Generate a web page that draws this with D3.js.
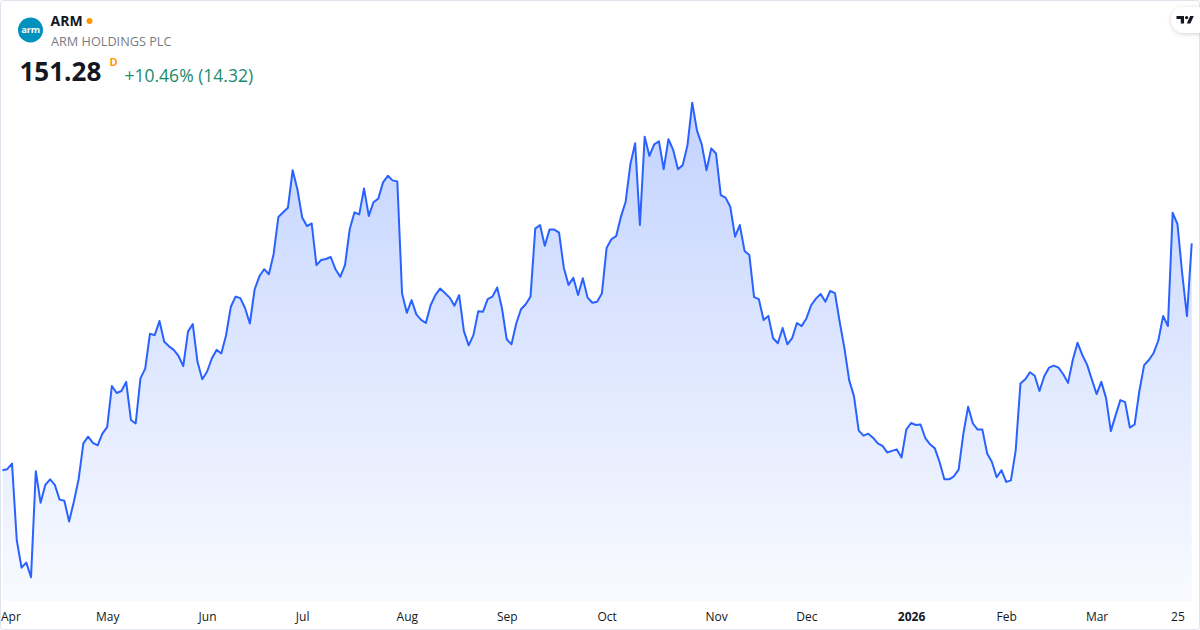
<!DOCTYPE html>
<html>
<head>
<meta charset="utf-8">
<script src="https://cdn.jsdelivr.net/npm/d3@7"></script>
<style>
  html, body { margin: 0; padding: 0; background: #fff; }
  body { width: 1200px; height: 630px; overflow: hidden; font-family: "Open Sans", "Noto Sans", sans-serif; }
</style>
</head>
<body>
<div id="chart"></div>
<script>
// header texts
var symbol = 'ARM';
var companyName = 'ARM HOLDINGS PLC';
var lastPrice = '151.28';
var intervalMark = 'D';
var changeText = '+10.46% (14.32)';

// daily closes, 31 Mar 2025 -> 30 Mar 2026
var closes = [
  106.6, 106.8, 107.9, 92.8, 87.4, 88.4, 85.5, 106.4, 100.2, 103.7,
  104.8, 103.7, 100.8, 100.6, 96.5, 100.4, 104.8, 111.9, 113.2, 112.0,
  111.5, 113.8, 115.1, 123.2, 121.8, 122.2, 124.0, 116.5, 115.8, 124.7,
  126.6, 133.5, 133.2, 136.0, 131.9, 131.0, 130.3, 129.1, 127.1, 133.9,
  135.4, 127.9, 124.5, 126.0, 128.6, 130.3, 129.6, 133.2, 138.8, 140.8,
  140.5, 138.5, 135.5, 142.2, 144.8, 146.2, 145.2, 149.2, 156.5, 157.4,
  158.3, 165.7, 161.9, 156.4, 154.7, 155.2, 147.0, 148.0, 148.2, 148.6,
  146.2, 144.7, 147.0, 154.1, 157.4, 157.0, 162.1, 156.7, 159.4, 160.1,
  163.3, 164.6, 163.7, 163.5, 141.4, 137.6, 140.1, 137.3, 136.2, 135.6,
  139.1, 141.1, 142.4, 141.5, 140.6, 139.0, 141.1, 134.0, 131.2, 133.2,
  137.9, 137.8, 140.3, 140.8, 142.6, 138.5, 132.4, 131.4, 135.5, 138.3,
  139.3, 140.8, 154.2, 154.9, 150.8, 154.0, 154.0, 153.4, 146.5, 143.1,
  144.5, 141.1, 144.4, 140.6, 139.6, 139.8, 141.4, 150.4, 152.1, 152.7,
  156.5, 159.5, 166.9, 171.0, 154.9, 172.3, 168.5, 170.8, 171.4, 165.9,
  171.8, 169.7, 165.9, 166.7, 170.6, 179.0, 173.5, 170.8, 165.7, 170.0,
  169.0, 160.8, 160.3, 158.5, 152.6, 154.9, 149.8, 149.0, 140.7, 140.3,
  136.2, 137.0, 132.6, 131.6, 134.6, 131.4, 132.6, 135.6, 135.0, 136.5,
  139.1, 140.4, 141.3, 139.8, 141.9, 141.5, 135.8, 130.6, 124.3, 121.2,
  114.4, 113.4, 113.8, 113.0, 111.9, 111.4, 110.1, 110.4, 110.7, 109.1,
  114.6, 115.9, 115.5, 115.6, 112.9, 111.7, 110.9, 108.2, 104.8, 104.8,
  105.4, 106.7, 113.8, 119.1, 115.8, 114.6, 114.6, 109.9, 108.2, 105.2,
  106.6, 104.3, 104.6, 110.5, 123.7, 124.5, 125.9, 125.2, 122.2, 125.1,
  126.8, 127.2, 126.8, 125.5, 123.8, 128.3, 131.7, 129.3, 127.4, 124.5,
  121.6, 124.0, 120.8, 114.3, 117.4, 120.4, 120.0, 115.0, 115.6, 122.2,
  127.3, 128.3, 129.7, 132.2, 137.0, 135.0, 157.3, 155.1, 145.4, 136.96, 151.28
];

// time axis labels and the bar index they sit on
var tickLabels = ['Apr', 'May', 'Jun', 'Jul', 'Aug', 'Sep', 'Oct', 'Nov', 'Dec', '2026', 'Feb', 'Mar', '25'];
var tickIndex = [1, 22, 43, 63, 85, 106, 127, 150, 169, 191, 211, 230, 247];
var boldTicks = ['2026'];

var svgWidth = 1200;
var svgHeight = 630;
var lineColor = '#2962ff';

var svg = d3.select('#chart')
  .append('svg')
  .attr('width', svgWidth)
  .attr('height', svgHeight);

var defs = svg.append('defs');

// card
svg.append('rect')
  .attr('x', 0.5)
  .attr('y', 0.5)
  .attr('width', svgWidth - 1)
  .attr('height', svgHeight - 1)
  .attr('rx', 3)
  .attr('fill', '#fff')
  .attr('stroke', '#e0e3eb');

// scales
var xScale = d3.scaleLinear()
  .domain([0, closes.length - 1])
  .range([2.5, 1191.7]);

var yScale = d3.scaleLinear()
  .domain(d3.extent(closes))
  .range([577.3, 102.7]);

var areaBottom = 601;

var grad = defs.append('linearGradient')
  .attr('id', 'areaFill')
  .attr('gradientUnits', 'userSpaceOnUse')
  .attr('x1', 0).attr('y1', yScale.range()[1])
  .attr('x2', 0).attr('y2', areaBottom);
grad.append('stop').attr('offset', '0%').attr('stop-color', lineColor).attr('stop-opacity', 0.28);
grad.append('stop').attr('offset', '100%').attr('stop-color', lineColor).attr('stop-opacity', 0.03);

var area = d3.area()
  .x((d, i) => xScale(i))
  .y0(areaBottom)
  .y1(d => yScale(d));

var line = d3.line()
  .x((d, i) => xScale(i))
  .y(d => yScale(d));

svg.append('path')
  .datum(closes)
  .attr('d', area)
  .attr('fill', 'url(#areaFill)');

svg.append('path')
  .datum(closes)
  .attr('d', line)
  .attr('fill', 'none')
  .attr('stroke', lineColor)
  .attr('stroke-width', 2)
  .attr('stroke-linejoin', 'round');

// time axis
var xAxis = d3.axisBottom(xScale)
  .tickValues(tickIndex)
  .tickFormat((d, i) => tickLabels[i])
  .tickSize(0)
  .tickPadding(0);

var axisG = svg.append('g')
  .attr('transform', 'translate(0, 612)')
  .call(xAxis);

axisG.select('.domain').remove();
axisG.selectAll('text')
  .attr('fill', '#131722')
  .attr('font-family', '"Open Sans", "Noto Sans", sans-serif')
  .attr('font-size', 12)
  .attr('font-weight', (d, i) => boldTicks.includes(tickLabels[i]) ? 700 : 400)
  .each(function() {
    // keep labels inside the card like the widget does
    var w = this.getComputedTextLength();
    var tick = d3.select(this.parentNode);
    var tx = +tick.attr('transform').match(/translate\(([-\d.]+)/)[1];
    if (tx - w / 2 < 1) d3.select(this).attr('x', 1 + w / 2 - tx);
  });

// header
svg.append('circle')
  .attr('cx', 30.5)
  .attr('cy', 30)
  .attr('r', 12.5)
  .attr('fill', '#0091bd');

svg.append('text')
  .attr('x', 30.5)
  .attr('y', 33)
  .attr('text-anchor', 'middle')
  .attr('fill', '#fff')
  .attr('font-size', 9.5)
  .attr('font-weight', 700)
  .attr('letter-spacing', -0.3)
  .text('arm');

svg.append('text')
  .attr('x', 50.5)
  .attr('y', 26)
  .attr('fill', '#131722')
  .attr('font-size', 14)
  .attr('font-weight', 700)
  .text(symbol);

svg.append('circle')
  .attr('cx', 89.5)
  .attr('cy', 21)
  .attr('r', 3)
  .attr('fill', '#ff9800');

svg.append('text')
  .attr('x', 51)
  .attr('y', 45.5)
  .attr('fill', '#787b86')
  .attr('font-size', 12.7)
  .text(companyName);

svg.append('text')
  .attr('x', 19.5)
  .attr('y', 81)
  .attr('fill', '#131722')
  .attr('font-size', 26)
  .attr('font-weight', 700)
  .text(lastPrice);

svg.append('text')
  .attr('x', 109.5)
  .attr('y', 65.5)
  .attr('fill', '#ff9800')
  .attr('font-size', 11)
  .attr('font-weight', 700)
  .text(intervalMark);

svg.append('text')
  .attr('x', 124.5)
  .attr('y', 81.5)
  .attr('fill', '#1b8a6e')
  .attr('font-size', 17.5)
  .text(changeText);

// TradingView badge top right
defs.append('filter')
  .attr('id', 'badgeShadow')
  .attr('x', '-50%').attr('y', '-50%').attr('width', '200%').attr('height', '200%')
  .append('feDropShadow')
  .attr('dx', 0).attr('dy', 1).attr('stdDeviation', 2)
  .attr('flood-color', '#000').attr('flood-opacity', 0.18);

svg.append('rect')
  .attr('x', 1171)
  .attr('y', 7)
  .attr('width', 44)
  .attr('height', 26)
  .attr('rx', 13)
  .attr('fill', '#fff')
  .attr('filter', 'url(#badgeShadow)');

var logo = svg.append('g').attr('fill', '#131722');
logo.append('path').attr('d', 'M1176.5 16h7.5v7.5h-3.2v-4.6h-4.3z');
logo.append('circle').attr('cx', 1186.6).attr('cy', 17.6).attr('r', 1.6);
logo.append('path').attr('d', 'M1190.2 16h3.6l-3.4 7.5h-3.6z');
</script>
</body>
</html>
